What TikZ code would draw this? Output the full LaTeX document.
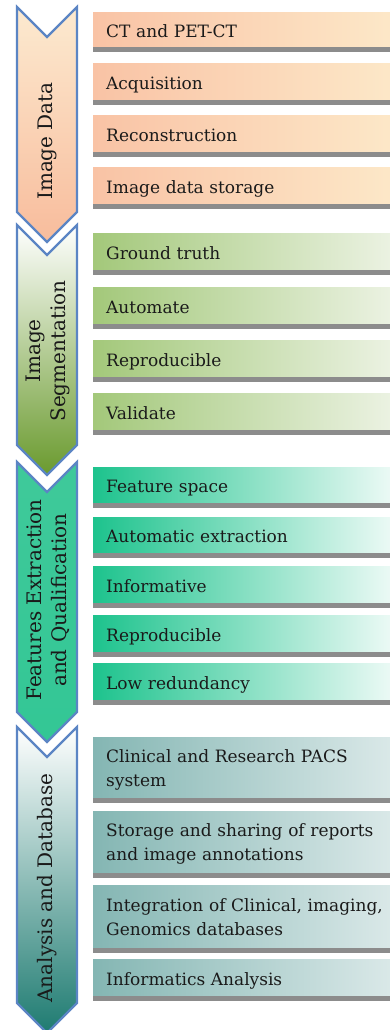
\documentclass[tikz,border=0pt]{standalone}
\usepackage{fontspec}
\setmainfont{DejaVu Serif}
\definecolor{txt}{HTML}{1A1A1A}
\definecolor{edge}{HTML}{5B85C4}
\definecolor{shadowc}{HTML}{8C8C8C}
\definecolor{c1t}{HTML}{FCEAD0}\definecolor{c1m}{HTML}{FAD3B8}\definecolor{c1b}{HTML}{F8BC9C}
\definecolor{c2t}{HTML}{FFFFFF}\definecolor{c2m}{HTML}{E4EDD9}\definecolor{c2b}{HTML}{6A9A2E}
\definecolor{c3t}{HTML}{3FC99A}\definecolor{c3m}{HTML}{7AD8B4}\definecolor{c3b}{HTML}{33C795}
\definecolor{c4t}{HTML}{FFFFFF}\definecolor{c4m}{HTML}{B3D0CD}\definecolor{c4b}{HTML}{1E7B71}
\definecolor{b1l}{HTML}{F9C3A5}\definecolor{b1r}{HTML}{FDEBCB}
\definecolor{b2l}{HTML}{A3C87A}\definecolor{b2r}{HTML}{F2F6EC}
\definecolor{b3l}{HTML}{1DC38D}\definecolor{b3m}{HTML}{A0E8D0}\definecolor{b3r}{HTML}{FFFFFF}
\definecolor{b4l}{HTML}{84B6B3}\definecolor{b4r}{HTML}{E2EDED}
\begin{document}
\begin{tikzpicture}[x=1pt,y=-1pt,
  chev/.style={draw=edge, line width=2.2pt, line join=miter},
  ctext/.style={rotate=90, text=txt, align=center, font=\fontsize{20}{25}\selectfont, inner sep=0pt},
  box/.style={anchor=north west, text width=300pt, inner xsep=13pt, inner ysep=0pt,
     align=left, text=txt, font=\fontsize{17}{24}\selectfont, minimum height=#1},
  one/.style={text height=15pt, text depth=0pt},
  two/.style={text height=12pt, text depth=23pt},
  r1/.style={left color=b1l, right color=b1r},
  r2/.style={left color=b2l, right color=b2r},
  r3/.style={left color=b3l, middle color=b3m, right color=b3r},
  r4/.style={left color=b4l, right color=b4r},
  shad/.style={fill=shadowc}
]
\useasboundingbox[fill=white] (0,0) rectangle (389,1030);

% chevrons
\draw[chev, top color=c1t, middle color=c1m, bottom color=c1b]
  (17,7) -- (47,37) -- (77,7) -- (77,212) -- (47,242) -- (17,212) -- cycle;
\draw[chev, top color=c2t, middle color=c2m, bottom color=c2b]
  (17,225) -- (47,255) -- (77,225) -- (77,445) -- (47,475) -- (17,445) -- cycle;
\draw[chev, top color=c3t, middle color=c3m, bottom color=c3b]
  (17,462) -- (47,492) -- (77,462) -- (77,712) -- (47,742) -- (17,712) -- cycle;
\draw[chev, top color=c4t, middle color=c4m, bottom color=c4b]
  (17,727) -- (47,757) -- (77,727) -- (77,1003) -- (47,1033) -- (17,1003) -- cycle;

\node[ctext] (t1) at (47,141) {Image Data};
\node[ctext] (t2) at (48,351) {Image\\Segmentation};
\node[ctext] (t3) at (48,600) {Features Extraction\\and Qualification};
\node[ctext] (t4) at (47,888) {Analysis and Database};

% row 1
\node[box=35pt, one, r1] (a1) at (93,12) {CT and PET-CT};
\node[box=37pt, one, r1] (a2) at (93,63) {Acquisition};
\node[box=37pt, one, r1] (a3) at (93,115) {Reconstruction};
\node[box=37pt, one, r1] (a4) at (93,167) {Image data storage};
% row 2
\node[box=37pt, one, r2] (b1) at (93,233) {Ground truth};
\node[box=37pt, one, r2] (b2) at (93,287) {Automate};
\node[box=37pt, one, r2] (b3) at (93,340) {Reproducible};
\node[box=37pt, one, r2] (b4) at (93,393) {Validate};
% row 3
\node[box=36pt, one, r3] (c1) at (93,467) {Feature space};
\node[box=36pt, one, r3] (c2) at (93,517) {Automatic extraction};
\node[box=37pt, one, r3] (c3) at (93,566) {Informative};
\node[box=37pt, one, r3] (c4) at (93,615) {Reproducible};
\node[box=37pt, one, r3] (c5) at (93,663) {Low redundancy};
% row 4
\node[box=61pt, two, r4] (d1) at (93,737) {Clinical and Research PACS\\system};
\node[box=62pt, two, r4] (d2) at (93,811) {Storage and sharing of reports\\and image annotations};
\node[box=63pt, two, r4] (d3) at (93,885) {Integration of Clinical, imaging,\\Genomics databases};
\node[box=37pt, one, r4] (d4) at (93,959) {Informatics Analysis};

% shadows
\foreach \n in {a1,a2,a3,a4,b1,b2,b3,b4,c1,c2,c3,c4,c5,d1,d2,d3,d4}
  \fill[shad] (\n.south west) rectangle ([yshift=-4.5pt]\n.south east);
\end{tikzpicture}
\end{document}
